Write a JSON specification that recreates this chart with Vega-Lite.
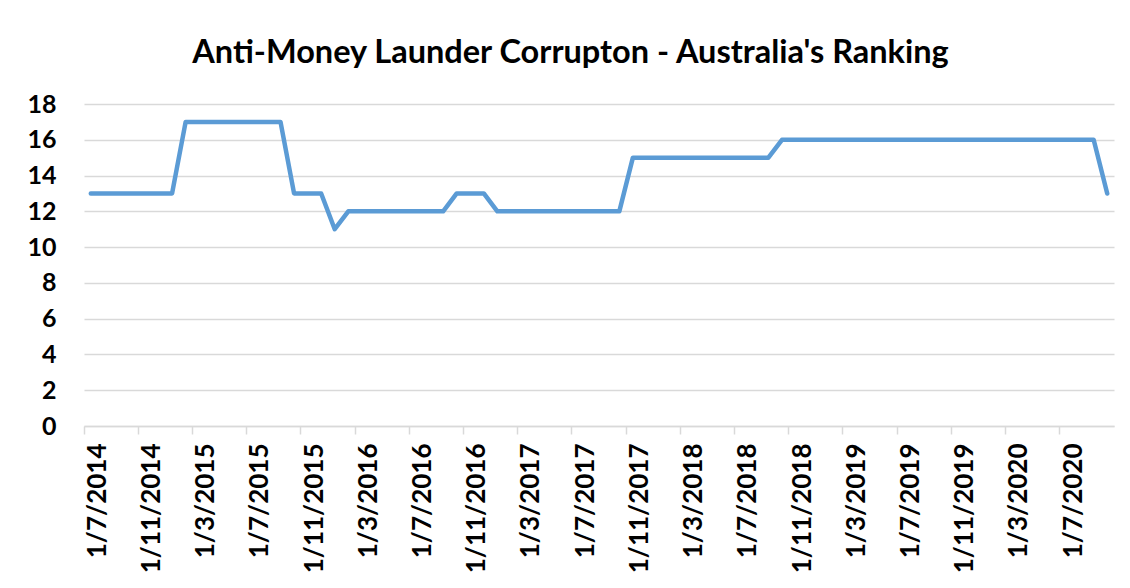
{
  "$schema": "https://vega.github.io/schema/vega-lite/v6.json",
  "autosize": "none",
  "width": 1030,
  "height": 322,
  "padding": {"left": 84, "top": 104, "right": 16, "bottom": 162},
  "background": "white",
  "title": {
    "text": "Anti-Money Launder Corrupton - Australia's Ranking",
    "font": "Lato",
    "fontSize": 32.5,
    "fontWeight": "bold",
    "color": "#000000",
    "anchor": "middle",
    "frame": "bounds",
    "offset": 23
  },
  "config": {
    "view": {"stroke": null},
    "axis": {"labelFont": "Lato", "labelFontWeight": "bold", "labelColor": "#000000", "labelFontSize": 25}
  },
  "data": {
    "values": [
      {"date": "1/7/2014", "rank": 13}, {"date": "1/8/2014", "rank": 13}, {"date": "1/9/2014", "rank": 13},
      {"date": "1/10/2014", "rank": 13}, {"date": "1/11/2014", "rank": 13}, {"date": "1/12/2014", "rank": 13},
      {"date": "1/1/2015", "rank": 13}, {"date": "1/2/2015", "rank": 17}, {"date": "1/3/2015", "rank": 17},
      {"date": "1/4/2015", "rank": 17}, {"date": "1/5/2015", "rank": 17}, {"date": "1/6/2015", "rank": 17},
      {"date": "1/7/2015", "rank": 17}, {"date": "1/8/2015", "rank": 17}, {"date": "1/9/2015", "rank": 17},
      {"date": "1/10/2015", "rank": 13}, {"date": "1/11/2015", "rank": 13}, {"date": "1/12/2015", "rank": 13},
      {"date": "1/1/2016", "rank": 11}, {"date": "1/2/2016", "rank": 12}, {"date": "1/3/2016", "rank": 12},
      {"date": "1/4/2016", "rank": 12}, {"date": "1/5/2016", "rank": 12}, {"date": "1/6/2016", "rank": 12},
      {"date": "1/7/2016", "rank": 12}, {"date": "1/8/2016", "rank": 12}, {"date": "1/9/2016", "rank": 12},
      {"date": "1/10/2016", "rank": 13}, {"date": "1/11/2016", "rank": 13}, {"date": "1/12/2016", "rank": 13},
      {"date": "1/1/2017", "rank": 12}, {"date": "1/2/2017", "rank": 12}, {"date": "1/3/2017", "rank": 12},
      {"date": "1/4/2017", "rank": 12}, {"date": "1/5/2017", "rank": 12}, {"date": "1/6/2017", "rank": 12},
      {"date": "1/7/2017", "rank": 12}, {"date": "1/8/2017", "rank": 12}, {"date": "1/9/2017", "rank": 12},
      {"date": "1/10/2017", "rank": 12}, {"date": "1/11/2017", "rank": 15}, {"date": "1/12/2017", "rank": 15},
      {"date": "1/1/2018", "rank": 15}, {"date": "1/2/2018", "rank": 15}, {"date": "1/3/2018", "rank": 15},
      {"date": "1/4/2018", "rank": 15}, {"date": "1/5/2018", "rank": 15}, {"date": "1/6/2018", "rank": 15},
      {"date": "1/7/2018", "rank": 15}, {"date": "1/8/2018", "rank": 15}, {"date": "1/9/2018", "rank": 15},
      {"date": "1/10/2018", "rank": 16}, {"date": "1/11/2018", "rank": 16}, {"date": "1/12/2018", "rank": 16},
      {"date": "1/1/2019", "rank": 16}, {"date": "1/2/2019", "rank": 16}, {"date": "1/3/2019", "rank": 16},
      {"date": "1/4/2019", "rank": 16}, {"date": "1/5/2019", "rank": 16}, {"date": "1/6/2019", "rank": 16},
      {"date": "1/7/2019", "rank": 16}, {"date": "1/8/2019", "rank": 16}, {"date": "1/9/2019", "rank": 16},
      {"date": "1/10/2019", "rank": 16}, {"date": "1/11/2019", "rank": 16}, {"date": "1/12/2019", "rank": 16},
      {"date": "1/1/2020", "rank": 16}, {"date": "1/2/2020", "rank": 16}, {"date": "1/3/2020", "rank": 16},
      {"date": "1/4/2020", "rank": 16}, {"date": "1/5/2020", "rank": 16}, {"date": "1/6/2020", "rank": 16},
      {"date": "1/7/2020", "rank": 16}, {"date": "1/8/2020", "rank": 16}, {"date": "1/9/2020", "rank": 16},
      {"date": "1/10/2020", "rank": 13}
    ]
  },
  "mark": {"type": "line", "color": "#5B9BD5", "strokeWidth": 4.5, "strokeCap": "round", "strokeJoin": "round"},
  "encoding": {
    "x": {
      "field": "date",
      "type": "ordinal",
      "sort": null,
      "bandPosition": 0.5,
      "scale": {"type": "band", "paddingInner": 0, "paddingOuter": 0},
      "axis": {
        "title": null,
        "values": ["1/7/2014", "1/11/2014", "1/3/2015", "1/7/2015", "1/11/2015", "1/3/2016", "1/7/2016", "1/11/2016", "1/3/2017", "1/7/2017", "1/11/2017", "1/3/2018", "1/7/2018", "1/11/2018", "1/3/2019", "1/7/2019", "1/11/2019", "1/3/2020", "1/7/2020"],
        "bandPosition": 0,
        "labelOffset": 7,
        "labelAngle": -90,
        "labelPadding": 9,
        "labelFontSize": 26,
        "domainColor": "#d9d9d9",
        "domainWidth": 1.5,
        "tickColor": "#d9d9d9",
        "tickWidth": 1.5,
        "tickSize": 8,
        "grid": false
      }
    },
    "y": {
      "field": "rank",
      "type": "quantitative",
      "scale": {"domain": [0, 18], "nice": false},
      "axis": {
        "title": null,
        "values": [0, 2, 4, 6, 8, 10, 12, 14, 16, 18],
        "ticks": false,
        "domain": false,
        "labelPadding": 28,
        "gridColor": "#d9d9d9",
        "gridWidth": 1.5
      }
    }
  }
}
